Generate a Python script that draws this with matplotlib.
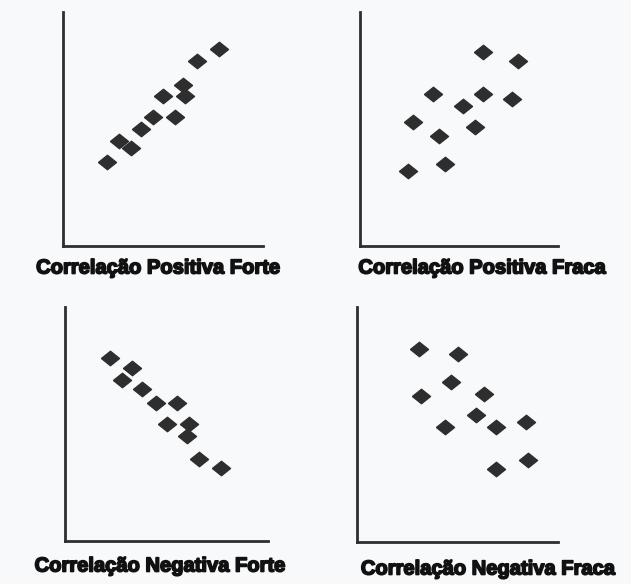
import matplotlib.pyplot as plt
import matplotlib.patheffects as pe

# point coordinates (0-10 scale, origin at the axes corner)
pos_forte_x = [2.2, 2.8, 3.4, 3.9, 4.5, 5.0, 5.6, 6.0, 6.1, 6.7, 7.8]
pos_forte_y = [3.6, 4.5, 4.2, 5.0, 5.5, 6.4, 5.5, 6.9, 6.4, 7.9, 8.4]

pos_fraca_x = [6.2, 8.0, 3.7, 6.2, 7.7, 5.2, 2.7, 5.8, 4.0, 2.4, 4.3]
pos_fraca_y = [8.3, 7.9, 6.5, 6.5, 6.3, 6.0, 5.3, 5.1, 4.7, 3.2, 3.5]

neg_forte_x = [2.2, 3.3, 2.8, 3.8, 4.5, 5.5, 5.0, 6.1, 6.0, 6.6, 7.7]
neg_forte_y = [7.8, 7.4, 6.9, 6.5, 5.9, 5.9, 5.0, 5.0, 4.5, 3.5, 3.1]

neg_fraca_x = [3.1, 5.0, 4.7, 3.2, 6.3, 5.9, 4.4, 6.9, 8.4, 8.5, 6.9]
neg_fraca_y = [8.2, 8.0, 6.8, 6.2, 6.3, 5.4, 4.9, 4.9, 5.1, 3.5, 3.1]

titles = ['Correlação Positiva Forte', 'Correlação Positiva Fraca',
          'Correlação Negativa Forte', 'Correlação Negativa Fraca']

W, H = 631, 584
bg = '#f8f9fb'
ink = '#2e2e2e'

# slightly flattened diamond, like the scanned blobs
blob = [(-1, 0), (0, 0.8), (1, 0), (0, -0.8), (-1, 0)]

fig = plt.figure(figsize=(W / 100, H / 100), dpi=100, facecolor=bg)

# axes boxes in pixels: left, bottom (from top), width, height
boxes = [(63, 246, 200, 234), (360, 246, 198, 234),
         (65, 541, 203, 234), (357, 542, 201, 235)]
title_pos = [(158, 268), (482, 268), (160, 566), (488, 569)]
data = [(pos_forte_x, pos_forte_y), (pos_fraca_x, pos_fraca_y),
        (neg_forte_x, neg_forte_y), (neg_fraca_x, neg_fraca_y)]

for (l, b, w, h), (xs, ys), t, (tx, ty) in zip(boxes, data, titles, title_pos):
    ax = fig.add_axes([l / W, (H - b) / H, w / W, h / H])
    ax.set_facecolor(bg)
    ax.plot(xs, ys, marker=blob, ls='none', ms=13, color=ink, mec=ink)
    ax.set_xlim(0, 10)
    ax.set_ylim(0, 10)
    for s in ['top', 'right']:
        ax.spines[s].set_visible(False)
    for s in ['left', 'bottom']:
        ax.spines[s].set_linewidth(2)
        ax.spines[s].set_color(ink)
    ax.set_xticks([])
    ax.set_yticks([])
    fig.text(tx / W, 1 - ty / H, t, ha='center', va='center', fontsize=14.5,
             fontweight='bold', family='Liberation Sans', color='#111111',
             path_effects=[pe.withStroke(linewidth=1.2, foreground='#111111')])

fig.savefig('out.png', dpi=100, facecolor=bg)
